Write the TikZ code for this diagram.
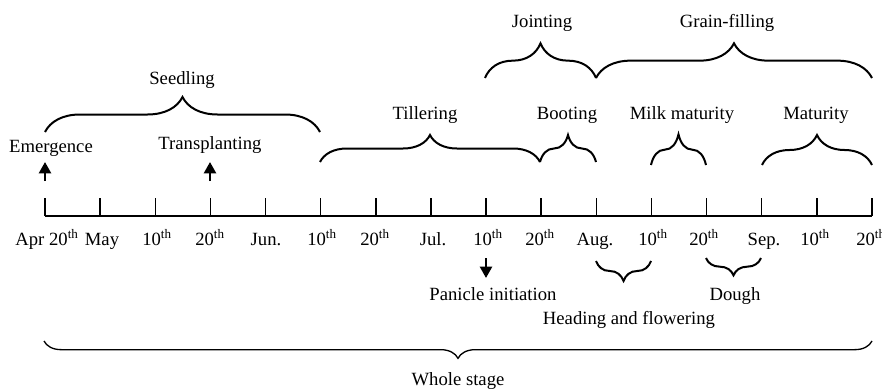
\documentclass[tikz,border=0pt]{standalone}
\usepackage{fontspec}
\setmainfont{Liberation Serif}
\usetikzlibrary{decorations.pathreplacing,arrows.meta}
\tikzset{
  lbl/.style={font=\fontsize{14}{16}\selectfont, inner sep=0pt, anchor=base},
  brc/.style={decorate, decoration={brace, amplitude=#1}, line width=1.5pt},
  thinbrc/.style={decorate, decoration={brace, amplitude=#1}, line width=1pt},
  evt/.style={line width=1.8pt, -{Triangle[length=8.5pt,width=9pt]}},
  axisline/.style={line width=1.5pt},
  tickline/.style={line width=1.1pt}
}
\begin{document}
\begin{tikzpicture}[x=0.75pt,y=-0.75pt]
\useasboundingbox (0,0) rectangle (882,389);
% ticks
\foreach \i in {0,...,15}{
  \coordinate (t\i) at ({45+\i*55.133},216);
  \coordinate (u\i) at ({45+\i*55.133},198);
  \draw[tickline] (t\i) -- (u\i);
}
\draw[axisline] (t0) -- (t15);
% tick labels
\node[lbl] (l0) at (47,245) {Apr 20\textsuperscript{th}};
\node[lbl] (l1) at (102,245) {May};
\node[lbl] (l2) at (157,245) {10\textsuperscript{th}};
\node[lbl] (l3) at (210,245) {20\textsuperscript{th}};
\node[lbl] (l4) at (266,245) {Jun.};
\node[lbl] (l5) at (322,245) {10\textsuperscript{th}};
\node[lbl] (l6) at (375,245) {20\textsuperscript{th}};
\node[lbl] (l7) at (433,245) {Jul.};
\node[lbl] (l8) at (488,245) {10\textsuperscript{th}};
\node[lbl] (l9) at (540,245) {20\textsuperscript{th}};
\node[lbl] (l10) at (595,245) {Aug.};
\node[lbl] (l11) at (653,245) {10\textsuperscript{th}};
\node[lbl] (l12) at (704,245) {20\textsuperscript{th}};
\node[lbl] (l13) at (764,245) {Sep.};
\node[lbl] (l14) at (815,245) {10\textsuperscript{th}};
\node[lbl] (l15) at (871,245) {20\textsuperscript{th}};
% event arrows
\coordinate (emA) at (45,181); \coordinate (emB) at (45,162);
\coordinate (trA) at (210,181); \coordinate (trB) at (210,162);
\coordinate (paA) at (486,258); \coordinate (paB) at (486,278);
\draw[evt] (emA) -- (emB);
\draw[evt] (trA) -- (trB);
\draw[evt] (paA) -- (paB);
\node[lbl] (emergence) at (51,152) {Emergence};
\node[lbl] (transplanting) at (210,149) {Transplanting};
\node[lbl] (panicle) at (493,300) {Panicle initiation};
% upper braces
\coordinate (sdL) at (45,132); \coordinate (sdR) at (320,132);
\draw[brc=26.25pt] (sdL) -- (sdR);
\node[lbl] (seedling) at (182,84) {Seedling};
\coordinate (tiL) at (320,162); \coordinate (tiR) at (540,162);
\draw[brc=20.25pt] (tiL) -- (tiR);
\node[lbl] (tillering) at (425,119) {Tillering};
\coordinate (boL) at (540,162); \coordinate (boR) at (596,162);
\draw[brc=20.25pt] (boL) -- (boR);
\node[lbl] (booting) at (567,119) {Booting};
\coordinate (joL) at (485,78); \coordinate (joR) at (596,78);
\draw[brc=26pt] (joL) -- (joR);
\node[lbl] (jointing) at (542,27) {Jointing};
\coordinate (grL) at (596,78); \coordinate (grR) at (872,78);
\draw[brc=26pt] (grL) -- (grR);
\node[lbl] (grain) at (727,27) {Grain-filling};
\coordinate (miL) at (651,165); \coordinate (miR) at (706,165);
\draw[brc=23pt] (miL) -- (miR);
\node[lbl] (milk) at (682,119) {Milk maturity};
\coordinate (maL) at (762,165); \coordinate (maR) at (872,165);
\draw[brc=22.5pt] (maL) -- (maR);
\node[lbl] (maturity) at (816,119) {Maturity};
% lower braces
\coordinate (heL) at (596,261); \coordinate (heR) at (651,261);
\draw[brc=15pt] (heR) -- (heL);
\node[lbl] (heading) at (629,324) {Heading and flowering};
\coordinate (doL) at (706,258); \coordinate (doR) at (761,258);
\draw[brc=13pt] (doR) -- (doL);
\node[lbl] (dough) at (735,300) {Dough};
\coordinate (whL) at (44,341); \coordinate (whR) at (872,341);
\draw[thinbrc=13pt] (whR) -- (whL);
\node[lbl] (whole) at (458,385) {Whole stage};
\end{tikzpicture}
\end{document}
